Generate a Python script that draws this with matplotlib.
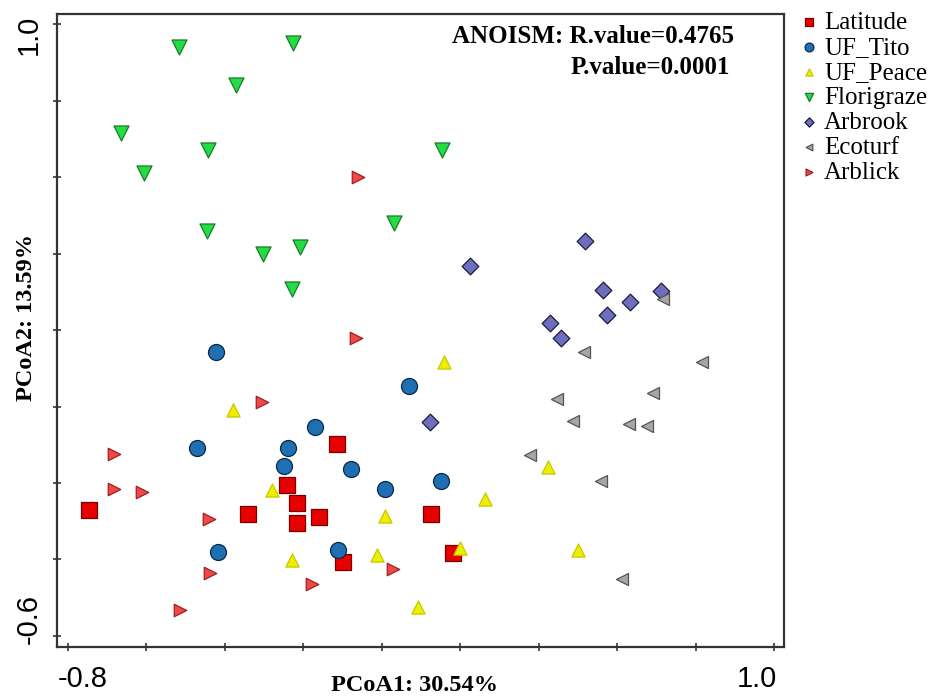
import numpy as np
import matplotlib
matplotlib.use("Agg")
import matplotlib.pyplot as plt
from matplotlib.transforms import ScaledTranslation

plt.rcParams['font.family'] = ['Liberation Serif', 'DejaVu Serif']

# group coordinates
latitude_x = [-0.745, -0.340, -0.113, -0.242, -0.216, -0.216, -0.160, -0.098, 0.126, 0.183]
latitude_y = [-0.270, -0.281, -0.099, -0.205, -0.253, -0.305, -0.288, -0.407, -0.282, -0.382]

tito_x = [-0.423, -0.470, -0.170, -0.238, -0.248, -0.079, 0.009, -0.418, -0.110, 0.070, 0.151]
tito_y = [0.142, -0.108, -0.054, -0.108, -0.155, -0.164, -0.216, -0.380, -0.375, 0.054, -0.195]

peace_x = [-0.378, -0.278, -0.228, 0.009, -0.011, 0.160, 0.423, 0.264, 0.200, 0.501, 0.092]
peace_y = [-0.009, -0.218, -0.401, -0.285, -0.389, 0.116, -0.159, -0.242, -0.371, -0.375, -0.525]

flori_x = [-0.516, -0.225, -0.372, -0.663, -0.442, -0.605, -0.444, -0.302, -0.207, -0.228, 0.032, 0.153]
flori_y = [0.941, 0.952, 0.841, 0.715, 0.671, 0.612, 0.460, 0.398, 0.418, 0.307, 0.481, 0.671]

arbrook_x = [0.518, 0.225, 0.564, 0.633, 0.711, 0.574, 0.429, 0.457, 0.123]
arbrook_y = [0.432, 0.369, 0.305, 0.273, 0.302, 0.240, 0.218, 0.179, -0.040]

ecoturf_x = [0.718, 0.516, 0.816, 0.691, 0.446, 0.488, 0.631, 0.676, 0.378, 0.558, 0.612]
ecoturf_y = [0.281, 0.142, 0.117, 0.036, 0.019, -0.037, -0.046, -0.050, -0.127, -0.196, -0.450]

arblick_x = [-0.061, -0.065, -0.306, -0.682, -0.682, -0.611, -0.440, -0.436, -0.177, -0.514, 0.028]
arblick_y = [0.600, 0.179, 0.012, -0.124, -0.216, -0.223, -0.293, -0.435, -0.465, -0.532, -0.426]

groups = [
    ("Latitude", latitude_x, latitude_y, "s", 133, "#E60000", "#7A0000"),
    ("UF_Tito", tito_x, tito_y, "o", 133, "#1F6FB2", "#0A2A4A"),
    ("UF_Peace", peace_x, peace_y, "^", 90, "#EEEE00", "#C8C800"),
    ("Florigraze", flori_x, flori_y, "v", 117, "#22DD44", "#1A7A2A"),
    ("Arbrook", arbrook_x, arbrook_y, "D", 72, "#6E6EC0", "#1A1A3A"),
    ("Ecoturf", ecoturf_x, ecoturf_y, "<", 75, "#A6A6A6", "#555555"),
    ("Arblick", arblick_x, arblick_y, ">", 81, "#F04848", "#A02020"),
]

fig = plt.figure(figsize=(9.46, 7.0), dpi=100)
ax = fig.add_axes([0.0603, 0.0757, 0.7685, 0.9043])

for name, x, y, m, s, fc, ec in groups:
    ax.scatter(x, y, marker=m, s=s, c=fc, edgecolors=ec, linewidths=0.9, label=name)

ax.set_xlim(-0.827, 1.0255)
ax.set_ylim(-0.629, 1.027)

xt = np.round(np.arange(-0.8, 1.01, 0.2), 1)
yt = np.round(np.arange(-0.6, 1.01, 0.2), 1)
ax.set_xticks(xt)
ax.set_yticks(yt)
ax.set_xticklabels(["-0.8"] + [""] * (len(xt) - 2) + ["1.0"], family="Liberation Sans", fontsize=21)
ax.set_yticklabels(["-0.6"] + [""] * (len(yt) - 2) + ["1.0"], family="Liberation Sans", fontsize=21,
                   rotation=90, va="center")
ax.tick_params(direction="inout", length=6, width=1.2, color="#333333")
ax.tick_params(axis="x", pad=10)
ax.tick_params(axis="y", pad=7)

# nudge the end labels inward like the original
xl = ax.get_xticklabels()
xl[0].set_transform(xl[0].get_transform() + ScaledTranslation(15 / 100, 0, fig.dpi_scale_trans))
xl[-1].set_transform(xl[-1].get_transform() + ScaledTranslation(-17 / 100, 0, fig.dpi_scale_trans))
yl = ax.get_yticklabels()
yl[0].set_transform(yl[0].get_transform() + ScaledTranslation(0, 17 / 100, fig.dpi_scale_trans))
yl[-1].set_transform(yl[-1].get_transform() + ScaledTranslation(0, -11 / 100, fig.dpi_scale_trans))

for sp in ax.spines.values():
    sp.set_linewidth(1.6)
    sp.set_color("#333333")

ax.set_xlabel("PCoA1: 30.54%", fontsize=17.5, fontweight="bold")
ax.set_ylabel("PCoA2: 13.59%", fontsize=17.5, fontweight="bold")
ax.xaxis.set_label_coords(0.492, -0.045)
ax.yaxis.set_label_coords(-0.028, 0.52)

ax.text(0.931, 0.9637, "ANOISM: R.value=0.4765", transform=ax.transAxes, ha="right", va="center",
        fontsize=18, fontweight="bold")
ax.text(0.926, 0.9147, "P.value=0.0001", transform=ax.transAxes, ha="right", va="center",
        fontsize=18, fontweight="bold")

fig.legend(loc="upper left", bbox_to_anchor=(0.8475, 0.984), frameon=False, fontsize=18,
           markerscale=0.55, handlelength=0.6, handletextpad=0.3, labelspacing=0.1,
           borderpad=0, borderaxespad=0)

fig.savefig("out.png", dpi=100)
